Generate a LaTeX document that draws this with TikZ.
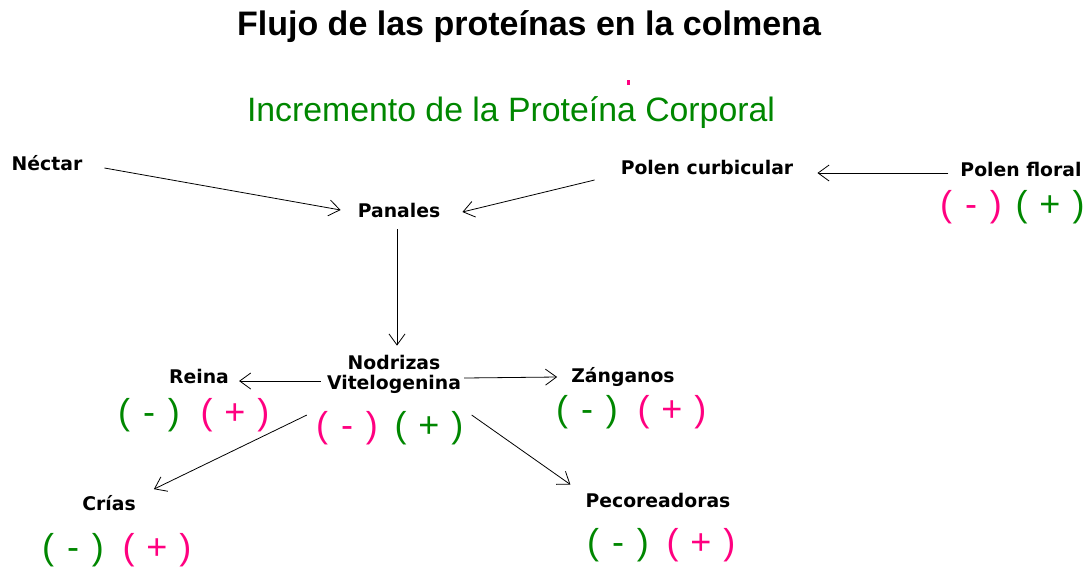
\documentclass[tikz,border=0pt]{standalone}
\usepackage{fontspec}
\setmainfont{Liberation Sans}
\newfontfamily\lblfont{DejaVu Sans}
\usetikzlibrary{arrows.meta}
\definecolor{mygreen}{RGB}{0,135,0}
\definecolor{mypink}{RGB}{255,0,128}
\newcommand{\mkminus}{(\hspace{13pt}-\hspace{13pt})}
\newcommand{\mkplus}{(\hspace{12pt}+\hspace{12pt})}
\tikzset{
  lbl/.style={inner sep=0pt, font=\lblfont\bfseries\fontsize{18.8}{20}\selectfont},
  mk/.style={inner sep=0pt, font=\fontsize{36}{38}\selectfont},
  conn/.style={draw=black, line width=0.8pt, -{Straight Barb[length=11pt,width=16pt]}},
}
\begin{document}
\begin{tikzpicture}[x=1pt,y=-1pt]
\useasboundingbox (0,0) rectangle (1089,566);
\fill[white] (0,0) rectangle (1089,566);
\node[inner sep=0pt, font=\bfseries\fontsize{34}{36}\selectfont] (title) at (529,27) {Flujo de las proteínas en la colmena};
\fill[mypink] (627,80) rectangle (630,85);
\node[inner sep=0pt, text=mygreen, font=\fontsize{33.8}{36}\selectfont] (sub) at (511,113) {Incremento de la Proteína Corporal};

\node[lbl] (nectar) at (47,163) {Néctar};
\node[lbl] (panales) at (399,210) {Panales};
\node[lbl] (curb) at (707,167) {Polen curbicular};
\node[lbl] (floral) at (1021,169) {Polen floral};
\node[lbl, align=center] (nodr) at (394,374) {Nodrizas\\[0pt]Vitelogenina};
\node[lbl] (reina) at (199,376) {Reina};
\node[lbl] (zang) at (623,377) {Zánganos};
\node[lbl] (crias) at (109,503) {Crías};
\node[lbl] (pecor) at (658,500) {Pecoreadoras};

% marks
\node[mk, text=mypink] (fm) at (971,207) {\mkminus};
\node[mk, text=mygreen] (fp) at (1050,207) {\mkplus};
\node[mk, text=mygreen] (rm) at (149,415) {\mkminus};
\node[mk, text=mypink] (rp) at (235,415) {\mkplus};
\node[mk, text=mypink] (nm) at (347,428) {\mkminus};
\node[mk, text=mygreen] (np) at (429,428) {\mkplus};
\node[mk, text=mygreen] (zm) at (587,412) {\mkminus};
\node[mk, text=mypink] (zp) at (672,412) {\mkplus};
\node[mk, text=mygreen] (cm) at (73,550) {\mkminus};
\node[mk, text=mypink] (cp) at (157,550) {\mkplus};
\node[mk, text=mygreen] (pm) at (618,545) {\mkminus};
\node[mk, text=mypink] (pp) at (701,545) {\mkplus};

% connectors
\draw[conn] ([shift={(22,5)}]nectar.east) -- ([shift={(-17,0)}]panales.west);
\draw[conn] ([shift={(-26,13)}]curb.west) -- ([shift={(22,2)}]panales.east);
\draw[conn] ([shift={(-12,4)}]floral.west) -- ([shift={(24,6)}]curb.east);
\draw[conn] ([shift={(-2,12)}]panales.south) -- ([shift={(3,-9)}]nodr.north);
\draw[conn] ([shift={(-6,7)}]nodr.west) -- ([shift={(10,5)}]reina.east);
\draw[conn] ([shift={(3,4)}]nodr.east) -- ([shift={(-14,0)}]zang.west);
\draw[conn] ([shift={(-9,4)}]nm.north west) -- ([shift={(18,-6)}]crias.north east);
\draw[conn] ([shift={(8,4)}]np.north east) -- ([shift={(-15,-8)}]pecor.north west);
\end{tikzpicture}
\end{document}
